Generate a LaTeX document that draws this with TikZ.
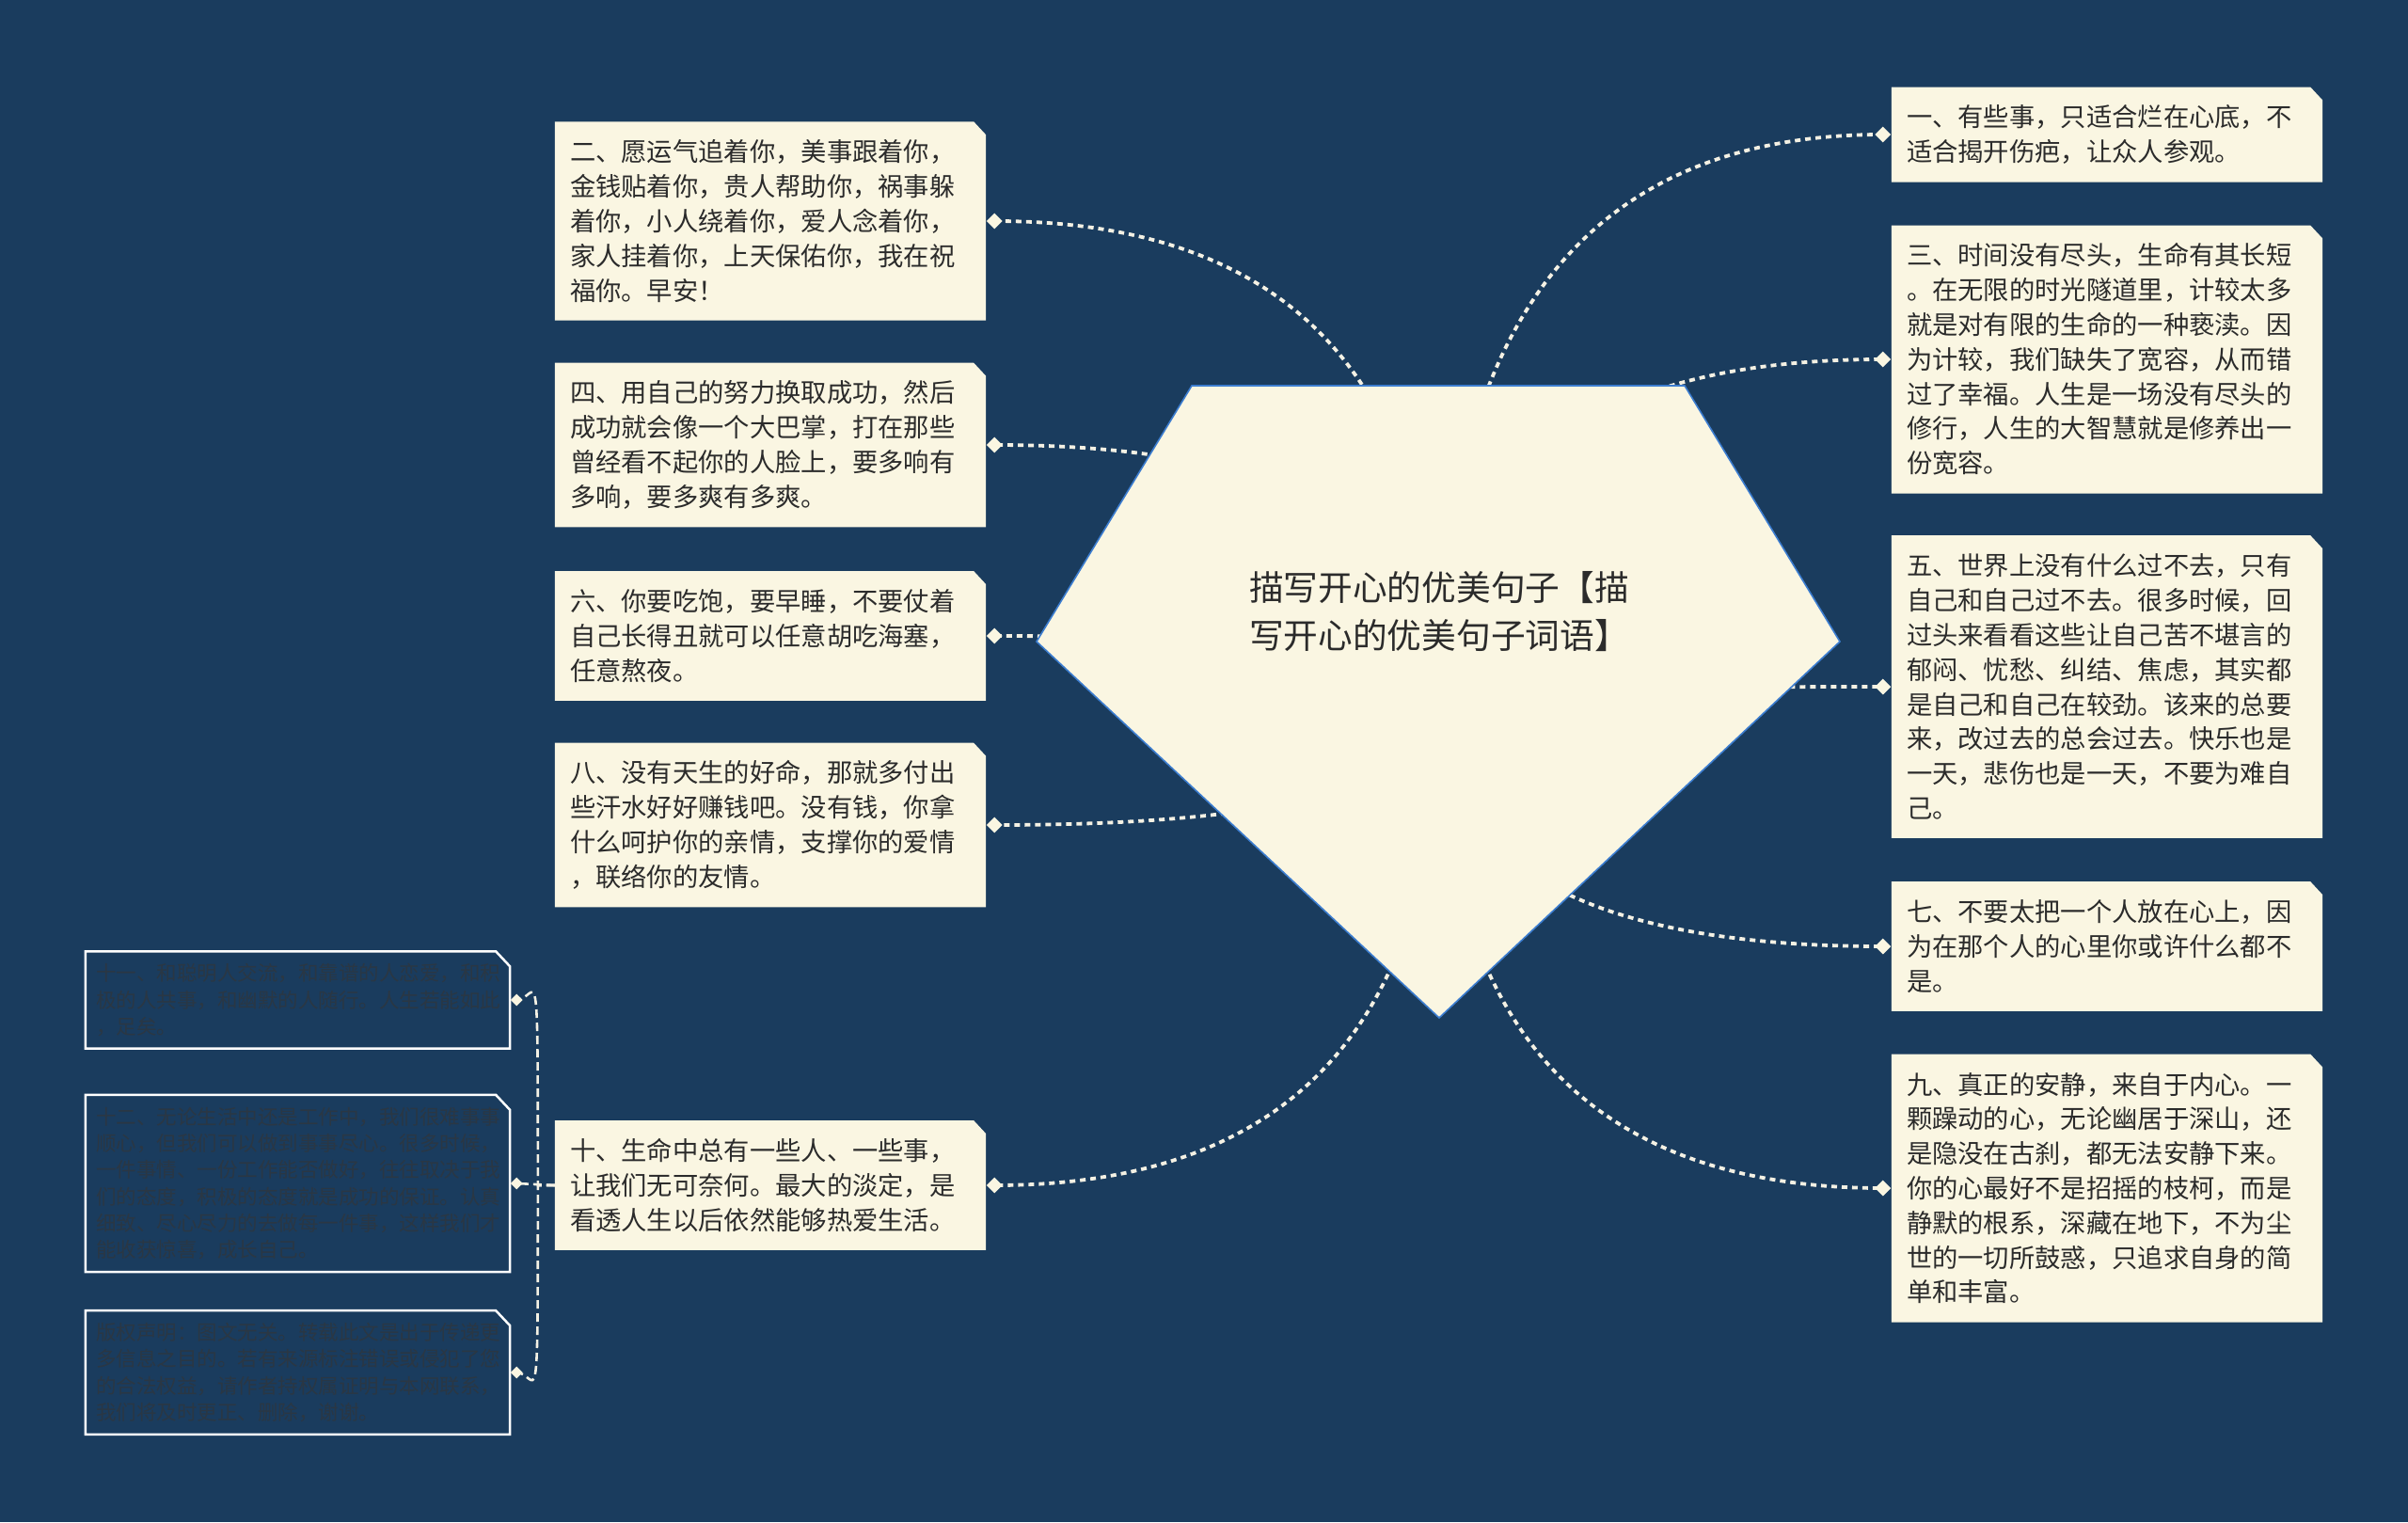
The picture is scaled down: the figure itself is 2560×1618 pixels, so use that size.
\documentclass[tikz,border=0pt]{standalone}
\usepackage{fontspec}
\setmainfont{Noto Sans CJK SC}
\usetikzlibrary{shapes.geometric,calc}
\definecolor{bgnavy}{HTML}{1A3C5E}
\definecolor{cream}{HTML}{FAF6E2}
\definecolor{txt}{HTML}{2B2B2B}
\definecolor{pentaedge}{HTML}{3C7DD0}
\definecolor{fltxt}{HTML}{2A3744}
\definecolor{dashc}{HTML}{F4F1E4}
\pgfdeclarelayer{bglayer}
\pgfdeclarelayer{connlayer}
\pgfdeclarelayer{boxlayer}
\pgfsetlayers{bglayer,connlayer,boxlayer,main}
\tikzset{
  card/.style={text=txt, text width=426pt, inner xsep=16pt, inner ysep=0pt, align=left,
    font=\fontsize{27.3}{36.8}\selectfont, minimum height={27pt+36.8pt*#1}},
  farcard/.style={text=fltxt, text width=429pt, inner xsep=11pt, inner ysep=0pt, align=left,
    font=\fontsize{21.5}{28.3}\selectfont, minimum height={18pt+28.3pt*#1}},
  dmd/.style={diamond, fill=cream, draw=none, inner sep=0pt, minimum width=17pt, minimum height=17pt},
  sdmd/.style={diamond, fill=cream, draw=none, inner sep=0pt, minimum width=13pt, minimum height=13pt},
  conn/.style={draw=dashc, line width=3.8pt, dash pattern=on 6pt off 5pt},
  fconn/.style={draw=dashc, line width=2.6pt, dash pattern=on 9pt off 5pt},
  titlefont/.style={text=txt, align=left, font=\fontsize{36.7}{51}\selectfont},
}
\begin{document}
\begin{tikzpicture}[x=1pt,y=-1pt]
\begin{pgfonlayer}{bglayer}
\fill[bgnavy] (0,0) rectangle (2560,1618);
\end{pgfonlayer}
\useasboundingbox (0,0) rectangle (2560,1618);

\coordinate (C) at (1530,746);
\node[titlefont] (title) at (1530,650) {描写开心的优美句子【描\\写开心的优美句子词语】};

% left column
\node[card=5] (L1) at (819,235) {二、愿运气追着你，美事跟着你，\\金钱贴着你，贵人帮助你，祸事躲\\着你，小人绕着你，爱人念着你，\\家人挂着你，上天保佑你，我在祝\\福你。早安！};
\node[card=4] (L2) at (819,473) {四、用自己的努力换取成功，然后\\成功就会像一个大巴掌，打在那些\\曾经看不起你的人脸上，要多响有\\多响，要多爽有多爽。};
\node[card=3] (L3) at (819,676) {六、你要吃饱，要早睡，不要仗着\\自己长得丑就可以任意胡吃海塞，\\任意熬夜。};
\node[card=4] (L4) at (819,877) {八、没有天生的好命，那就多付出\\些汗水好好赚钱吧。没有钱，你拿\\什么呵护你的亲情，支撑你的爱情\\，联络你的友情。};
\node[card=3] (L5) at (819,1260) {十、生命中总有一些人、一些事，\\让我们无可奈何。最大的淡定，是\\看透人生以后依然能够热爱生活。};

% right column
\node[card=2] (R1) at (2240,143) {一、有些事，只适合烂在心底，不\\适合揭开伤疤，让众人参观。};
\node[card=7] (R2) at (2240,382) {三、时间没有尽头，生命有其长短\\。在无限的时光隧道里，计较太多\\就是对有限的生命的一种亵渎。因\\为计较，我们缺失了宽容，从而错\\过了幸福。人生是一场没有尽头的\\修行，人生的大智慧就是修养出一\\份宽容。};
\node[card=8] (R3) at (2240,730) {五、世界上没有什么过不去，只有\\自己和自己过不去。很多时候，回\\过头来看看这些让自己苦不堪言的\\郁闷、忧愁、纠结、焦虑，其实都\\是自己和自己在较劲。该来的总要\\来，改过去的总会过去。快乐也是\\一天，悲伤也是一天，不要为难自\\己。};
\node[card=3] (R4) at (2240,1006) {七、不要太把一个人放在心上，因\\为在那个人的心里你或许什么都不\\是。};
\node[card=7] (R5) at (2240,1263) {九、真正的安静，来自于内心。一\\颗躁动的心，无论幽居于深山，还\\是隐没在古刹，都无法安静下来。\\你的心最好不是招摇的枝柯，而是\\静默的根系，深藏在地下，不为尘\\世的一切所鼓惑，只追求自身的简\\单和丰富。};

% far left
\node[farcard=3] (F1) at (316.5,1063) {十一、和聪明人交流，和靠谱的人恋爱，和积\\极的人共事，和幽默的人随行。人生若能如此\\，足矣。};
\node[farcard=6] (F2) at (316.5,1258) {十二、无论生活中还是工作中，我们很难事事\\顺心，但我们可以做到事事尽心。很多时候，\\一件事情、一份工作能否做好，往往取决于我\\们的态度，积极的态度就是成功的保证。认真\\细致、尽心尽力的去做每一件事，这样我们才\\能收获惊喜，成长自己。};
\node[farcard=4] (F3) at (316.5,1459) {版权声明：图文无关。转载此文是出于传递更\\多信息之目的。若有来源标注错误或侵犯了您\\的合法权益，请作者持权属证明与本网联系，\\我们将及时更正、删除，谢谢。};

% diamonds
\foreach \n in {L1,L2,L3,L4,L5} \node[dmd] (d\n) at ([xshift=9pt]\n.east) {};
\foreach \n in {R1,R2,R3,R4,R5} \node[dmd] (d\n) at ([xshift=-9pt]\n.west) {};
\foreach \n in {F1,F2,F3} \node[sdmd] (d\n) at ([xshift=7pt]\n.east) {};

\begin{pgfonlayer}{boxlayer}
\foreach \n in {L1,L2,L3,L4,L5,R1,R2,R3,R4,R5}
  \fill[cream] (\n.south west) -- (\n.north west) -- ([xshift=-13pt]\n.north east)
     -- ([yshift=-14pt]\n.north east) -- (\n.south east) -- cycle;
\foreach \n in {F1,F2,F3}
  \draw[white, line width=2.5pt, line join=miter] (\n.south west) -- (\n.north west) -- ([xshift=-15pt]\n.north east)
     -- ([yshift=-16pt]\n.north east) -- (\n.south east) -- cycle;
\filldraw[fill=cream, draw=pentaedge, line width=1.6pt] (1267,410) -- (1791,410) -- (1956,682) -- (1530,1082) -- (1102,682) -- cycle;
\end{pgfonlayer}

\begin{pgfonlayer}{connlayer}
\foreach \n in {L1,L2,L3,L4,L5,R1,R2,R3,R4,R5}
  \draw[conn] (C) .. controls ($(C)!0.6667!(C |- d\n)$) and ($(d\n.center)!0.6667!(C |- d\n)$) .. (d\n.center);
\coordinate (J) at ([xshift=-18pt]L5.west);
\draw[fconn] (L5.west) -- (J) .. controls ([yshift=70pt]J |- dF1) and (J |- dF1) .. (dF1.center);
\draw[fconn] (L5.west) -- (dF2.center);
\draw[fconn] (L5.west) -- (J) .. controls ([yshift=-70pt]J |- dF3) and (J |- dF3) .. (dF3.center);
\end{pgfonlayer}
\end{tikzpicture}
\end{document}
